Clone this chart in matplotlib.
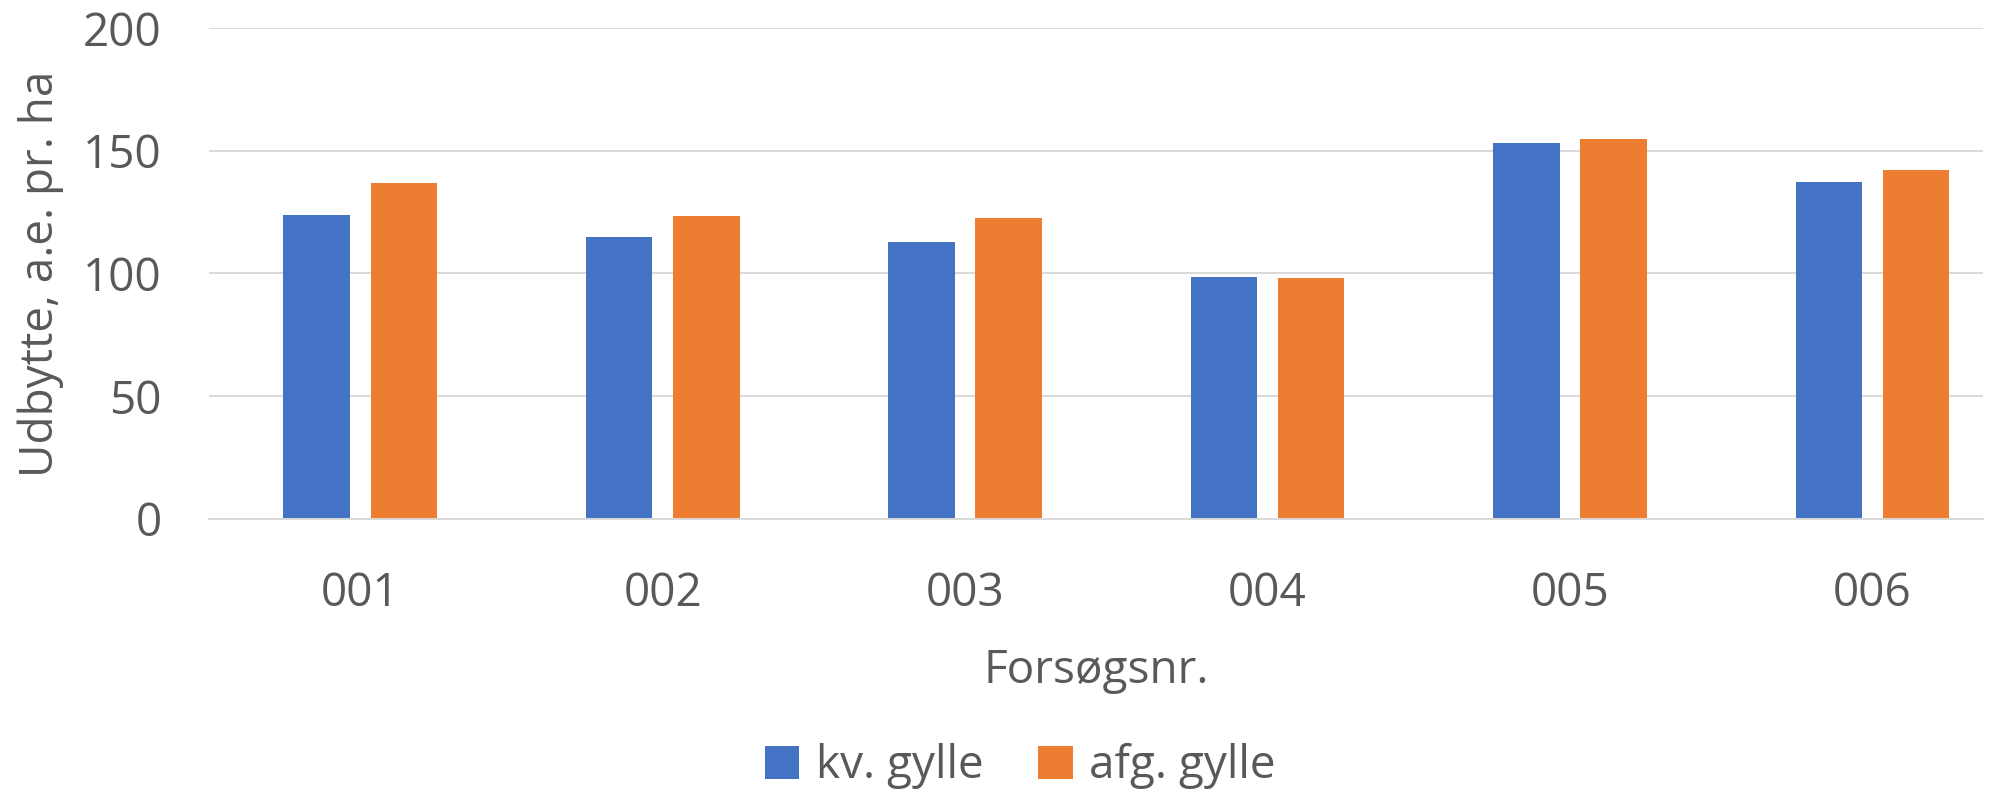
import matplotlib
matplotlib.use("Agg")
import matplotlib.pyplot as plt
import numpy as np

# data
forsog = ["001", "002", "003", "004", "005", "006"]
kv_gylle = [123.7, 114.7, 112.7, 98.4, 153.1, 137.1]
afg_gylle = [136.8, 123.4, 122.8, 98.0, 154.8, 142.1]
y_ticks = [0, 50, 100, 150, 200]

blue = "#4472C4"
orange = "#ED7D31"
text_col = "#595959"
grid_col = "#D9D9D9"

plt.rcParams["font.family"] = ["Open Sans", "DejaVu Sans"]

fig = plt.figure(figsize=(20.08, 7.93), dpi=100)
ax = fig.add_axes([0.1041, 0.346, 0.8834, 0.6184])

x = np.arange(len(forsog))
bar_w = 0.22
offset = 0.144

ax.bar(x - offset, kv_gylle, bar_w, color=blue, label="kv. gylle", zorder=3)
ax.bar(x + offset, afg_gylle, bar_w, color=orange, label="afg. gylle", zorder=3)

# plot area in the reference is cut a little short on the right
ax.set_xlim(-0.5, len(forsog) - 0.635)
ax.set_ylim(0, 200)
ax.set_yticks(y_ticks)
ax.set_xticks(x)
ax.set_xticklabels(forsog)

# excel-like look: horizontal gridlines only, no frame
ax.yaxis.grid(True, color=grid_col, linewidth=1.4, zorder=0)
for side in ["top", "right", "left"]:
    ax.spines[side].set_visible(False)
ax.spines["bottom"].set_color(grid_col)
ax.spines["bottom"].set_linewidth(1.4)
ax.spines["bottom"].set_zorder(4)

ax.tick_params(axis="both", length=0, labelsize=33, labelcolor=text_col)
ax.tick_params(axis="y", pad=34)
ax.tick_params(axis="x", pad=38)

ax.set_ylabel("Udbytte, a.e. pr. ha", fontsize=33, color=text_col, labelpad=14)
ax.set_xlabel("Forsøgsnr.", fontsize=33, color=text_col, labelpad=22)

leg = fig.legend(loc="center", bbox_to_anchor=(0.508, 0.0335), ncol=2,
                 frameon=False, fontsize=33, handlelength=0.75, handleheight=0.75,
                 handletextpad=0.35, columnspacing=1.2, borderaxespad=0.0)
for t in leg.get_texts():
    t.set_color(text_col)

fig.savefig("out.png", dpi=100)
